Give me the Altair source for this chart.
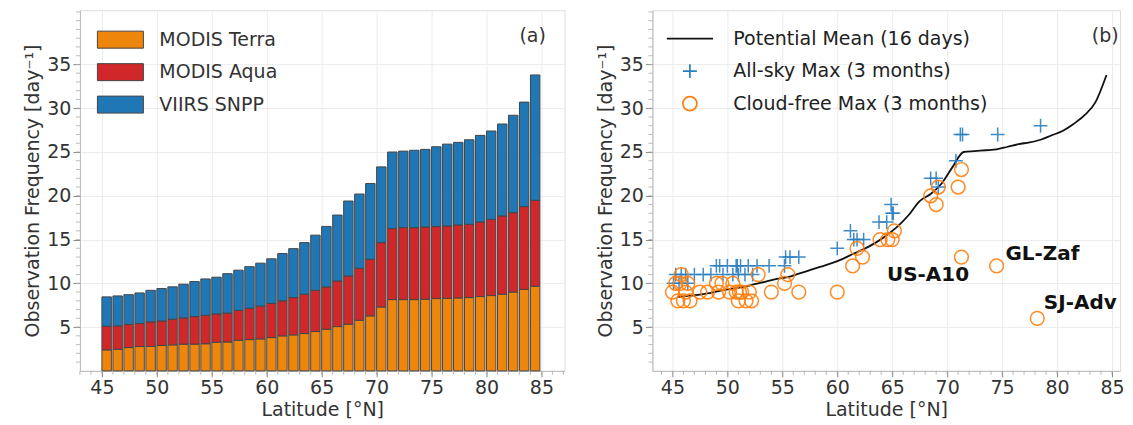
import altair as alt
import pandas as pd

# ---------------- data ----------------
lat_bins = list(range(45, 85))
terra_top = [2.40, 2.47, 2.66, 2.78, 2.80, 2.90, 2.97, 3.05, 3.05, 3.10,
             3.27, 3.30, 3.50, 3.57, 3.65, 3.80, 4.00, 4.11, 4.26, 4.49,
             4.76, 5.06, 5.33, 5.78, 6.28, 7.30, 8.14, 8.14, 8.14, 8.18,
             8.26, 8.29, 8.33, 8.37, 8.49, 8.60, 8.75, 9.00, 9.30, 9.67]
aqua_top = [5.10, 5.14, 5.30, 5.40, 5.60, 5.70, 5.90, 6.05, 6.20, 6.35,
            6.50, 6.60, 6.90, 7.15, 7.40, 7.70, 8.00, 8.37, 8.75, 9.20,
            9.59, 10.27, 10.84, 11.72, 12.75, 14.65, 16.25, 16.36, 16.36, 16.44,
            16.48, 16.55, 16.67, 16.74, 17.00, 17.30, 17.70, 18.07, 18.76, 19.48]
viirs_top = [8.45, 8.56, 8.70, 8.90, 9.20, 9.40, 9.60, 9.90, 10.20, 10.50,
             10.70, 11.10, 11.50, 11.90, 12.30, 12.80, 13.40, 13.96, 14.65, 15.50,
             16.50, 17.80, 19.40, 20.20, 21.40, 23.30, 25.00, 25.10, 25.20, 25.30,
             25.60, 25.90, 26.10, 26.40, 26.90, 27.40, 28.20, 29.20, 30.70, 33.80]

sensors = ["MODIS Terra", "MODIS Aqua", "VIIRS SNPP"]
sensor_colors = ["#ef860c", "#d0282a", "#2077b6"]

potential_lat = [l + 0.5 for l in lat_bins]
potential_mean = viirs_top[:]

allsky_lat = [45.1, 45.3, 45.6, 45.8, 46.2, 46.4, 47.0, 47.8, 48.5, 49.0,
              49.3, 49.6, 50.0, 50.5, 50.8, 50.9, 51.0, 51.2, 51.6, 51.9,
              52.3, 52.7, 53.8, 55.2, 55.3, 55.7, 56.5, 60.0, 61.2, 61.5,
              61.8, 62.4, 63.8, 64.5, 64.9, 65.0, 65.1, 68.5, 69.0, 69.2,
              70.8, 71.2, 71.4, 74.6, 78.5]
allsky_max = [10, 11, 10, 11, 11, 10, 11, 11, 11, 12,
              12, 11, 12, 11, 12, 12, 11, 12, 11, 12,
              11, 12, 12, 12, 13, 13, 13, 14, 16, 15,
              15, 15, 17, 17, 19, 18, 18, 22, 22, 21,
              24, 27, 27, 27, 28]

cloudfree_lat = [45.0, 45.3, 45.5, 45.7, 45.8, 46.0, 46.2, 46.4, 46.6, 47.5,
                 48.2, 49.0, 49.2, 49.5, 50.2, 50.5, 50.8, 51.0, 51.1, 51.3,
                 51.7, 52.0, 52.2, 52.8, 54.0, 55.2, 55.5, 56.5, 60.0, 61.4,
                 61.8, 62.3, 63.9, 64.6, 65.0, 65.2, 68.5, 69.0, 69.2, 71.0,
                 71.3, 71.3, 74.5, 78.2]
cloudfree_max = [9, 10, 8, 10, 11, 8, 9, 10, 8, 9,
                 9, 10, 9, 10, 9, 10, 9, 8, 9, 9,
                 8, 9, 8, 11, 9, 10, 11, 9, 9, 12,
                 14, 13, 15, 15, 15, 16, 20, 19, 21, 21,
                 23, 13, 12, 6]

series_names = ["Potential Mean (16 days)", "All-sky Max (3 months)", "Cloud-free Max (3 months)"]
series_colors = ["#111111", "#2a7fc0", "#ff7f0e"]

site_names = ["US-A10", "GL-Zaf", "SJ-Adv"]
site_lat = [72.0, 75.3, 78.8]
site_val = [11.0, 13.3, 7.8]
site_align = ["right", "left", "left"]

panel_tags = ["(a)", "(b)"]
panel_tag_lat = [85.4, 85.6]
panel_tag_val = [38.2, 38.2]

y_ticks = [5, 10, 15, 20, 25, 30, 35]
x_ticks = [45, 50, 55, 60, 65, 70, 75, 80, 85]

# ---------------- tables ----------------
rows = []
for i, lat in enumerate(lat_bins):
    lows = [0, terra_top[i], aqua_top[i]]
    highs = [terra_top[i], aqua_top[i], viirs_top[i]]
    for s, lo, hi in zip(sensors, lows, highs):
        rows.append({"lat": lat, "sensor": s, "y0": lo, "y1": hi})
bars_df = pd.DataFrame(rows)

pot_df = pd.DataFrame({"lat": potential_lat, "v": potential_mean})
pts_df = pd.concat([
    pd.DataFrame({"lat": allsky_lat, "v": allsky_max, "series": series_names[1]}),
    pd.DataFrame({"lat": cloudfree_lat, "v": cloudfree_max, "series": series_names[2]}),
], ignore_index=True)
sites_df = pd.DataFrame({"lat": site_lat, "v": site_val, "name": site_names, "al": site_align})

minor_y_df = pd.DataFrame({"v": list(range(1, 42))})

FONT = "DejaVu Sans"
W_A, W_B, H = 485, 468, 361
YDOM = [0, 41.2]
XDOM_A = [43.0, 87.1]
XDOM_B = [43.18, 85.73]

ax_y = alt.Axis(title="Observation Frequency [day⁻¹]", values=y_ticks, grid=True)
ax_x = alt.Axis(title="Latitude [°N]", values=x_ticks, grid=True)


def ysc():
    return alt.Scale(domain=YDOM, nice=False, zero=False)


def minor_layers(xdom):
    xs = pd.DataFrame({"lat": list(range(int(xdom[0]), int(xdom[1]) + 1))})
    xs = xs[(xs["lat"] >= xdom[0]) & (xs["lat"] <= xdom[1])]
    xsc = alt.Scale(domain=xdom, nice=False, zero=False)
    my = alt.Chart(minor_y_df).mark_rule(color="#aaaaaa", strokeWidth=0.8).encode(
        y=alt.Y("v:Q", scale=ysc(), axis=ax_y),
        x=alt.value(-4), x2=alt.value(0))
    mx = alt.Chart(xs).mark_rule(color="#aaaaaa", strokeWidth=0.8).encode(
        x=alt.X("lat:Q", scale=xsc, axis=ax_x),
        y=alt.value(H), y2=alt.value(H + 4))
    return my, mx


# ---------------- panel (a) ----------------
xsc_a = alt.Scale(domain=XDOM_A, nice=False, zero=False)
bars = alt.Chart(bars_df).transform_calculate(
    lat_end="datum.lat + 0.86"
).mark_bar(stroke="#454545", strokeWidth=1, opacity=1).encode(
    x=alt.X("lat:Q", scale=xsc_a, axis=ax_x),
    x2="lat_end:Q",
    y=alt.Y("y0:Q", scale=ysc(), axis=ax_y),
    y2="y1:Q",
    color=alt.Color("sensor:N", scale=alt.Scale(domain=sensors, range=sensor_colors),
                    legend=alt.Legend(title=None, orient="none", legendX=28.5, legendY=17.5,
                                      symbolType="M-2,-0.74H2V0.74H-2Z", symbolSize=529,
                                      symbolStrokeColor="#454545", symbolStrokeWidth=1,
                                      symbolOpacity=1, labelLimit=500,
                                      labelFontSize=19, labelColor="#333333", labelFont=FONT,
                                      labelOffset=27, rowPadding=9.5, padding=0)),
)

tag_a = alt.Chart(pd.DataFrame({"lat": [panel_tag_lat[0]], "v": [panel_tag_val[0]],
                                "t": [panel_tags[0]]})).mark_text(
    align="right", baseline="middle", fontSize=19, color="#333333", font=FONT
).encode(x=alt.X("lat:Q", scale=xsc_a, axis=ax_x),
         y=alt.Y("v:Q", scale=ysc(), axis=ax_y), text="t:N")

my_a, mx_a = minor_layers(XDOM_A)
panel_a = alt.layer(bars, tag_a, my_a, mx_a).properties(width=W_A, height=H)

# ---------------- panel (b) ----------------
xsc_b = alt.Scale(domain=XDOM_B, nice=False, zero=False)
line = alt.Chart(pot_df).mark_line(color="#111111", strokeWidth=1.8, interpolate="monotone").encode(
    x=alt.X("lat:Q", scale=xsc_b, axis=ax_x),
    y=alt.Y("v:Q", scale=ysc(), axis=ax_y),
)

leg_b = alt.Legend(title=None, orient="none", legendX=28, legendY=19,
                   symbolSize=196, symbolStrokeWidth=1.7, symbolOpacity=1, labelLimit=500,
                   labelFontSize=19, labelColor="#222222", labelFont=FONT,
                   labelOffset=34, rowPadding=11.5, padding=0)
points = alt.Chart(pts_df).mark_point(filled=False, strokeWidth=1.5, size=190, opacity=0.9).encode(
    x=alt.X("lat:Q", scale=xsc_b, axis=ax_x),
    y=alt.Y("v:Q", scale=ysc(), axis=ax_y),
    color=alt.Color("series:N", scale=alt.Scale(domain=series_names, range=series_colors), legend=leg_b),
    shape=alt.Shape("series:N", scale=alt.Scale(domain=series_names,
                                                range=["M-3.3,0H3.3", "M-1,0H1M0,-1V1", "circle"]),
                    legend=leg_b),
)

sites_r = alt.Chart(sites_df[sites_df["al"] == "right"]).mark_text(
    align="right", baseline="middle", fontSize=20, fontWeight="bold", color="#111111", font=FONT
).encode(x=alt.X("lat:Q", scale=xsc_b, axis=ax_x), y=alt.Y("v:Q", scale=ysc(), axis=ax_y), text="name:N")
sites_l = alt.Chart(sites_df[sites_df["al"] == "left"]).mark_text(
    align="left", baseline="middle", fontSize=20, fontWeight="bold", color="#111111", font=FONT
).encode(x=alt.X("lat:Q", scale=xsc_b, axis=ax_x), y=alt.Y("v:Q", scale=ysc(), axis=ax_y), text="name:N")

tag_b = alt.Chart(pd.DataFrame({"lat": [panel_tag_lat[1]], "v": [panel_tag_val[1]],
                                "t": [panel_tags[1]]})).mark_text(
    align="right", baseline="middle", fontSize=19, color="#333333", font=FONT
).encode(x=alt.X("lat:Q", scale=xsc_b, axis=ax_x),
         y=alt.Y("v:Q", scale=ysc(), axis=ax_y), text="t:N")

my_b, mx_b = minor_layers(XDOM_B)
panel_b = alt.layer(line, points, sites_r, sites_l, tag_b, my_b, mx_b).properties(width=W_B, height=H)

chart = alt.hconcat(panel_a, panel_b, spacing=30).resolve_scale(
    color="independent", shape="independent"
).resolve_legend(color="independent", shape="independent").properties(
    padding={"left": 15, "top": 1, "right": 0, "bottom": 0},
    background="white",
).configure_view(stroke="#dddddd", strokeWidth=1).configure_axis(
    labelFont=FONT, titleFont=FONT, labelFontSize=19, titleFontSize=19,
    labelColor="#333333", titleColor="#333333", titleFontWeight="normal",
    tickColor="#888888", tickSize=7, tickWidth=1, labelPadding=2, titlePadding=4,
    domainColor="#bbbbbb", gridColor="#ececec", gridWidth=1,
).configure_axisX(tickSize=6, titlePadding=3).configure_text(font=FONT)

chart.save("out.html", embed_options={"renderer": "svg", "actions": False})
